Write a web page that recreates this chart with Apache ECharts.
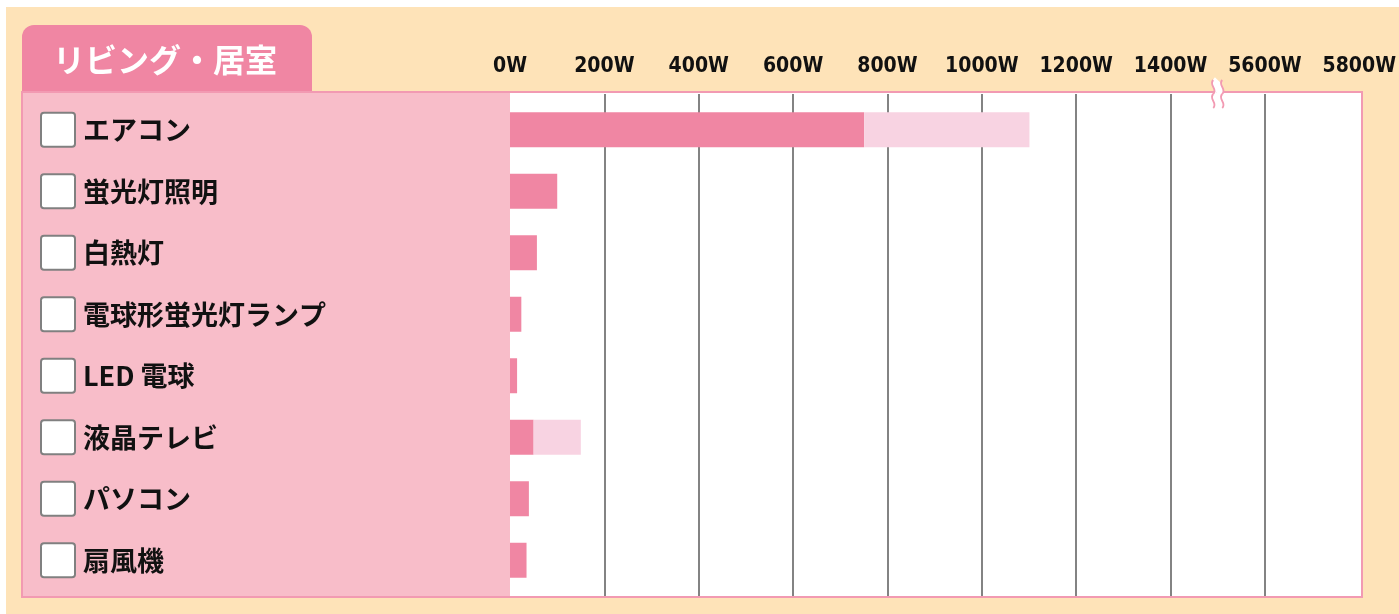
<!DOCTYPE html>
<html>
<head>
<meta charset="utf-8">
<script src="https://cdn.jsdelivr.net/npm/echarts@6/dist/echarts.min.js"></script>
<style>
  html, body { margin: 0; padding: 0; background: #fff; }
  #chart { width: 1399px; height: 614px; }
</style>
</head>
<body>
<div id="chart"></div>
<script>
// rows, top to bottom
const categories = ['エアコン', '蛍光灯照明', '白熱灯', '電球形蛍光灯ランプ', 'LED 電球', '液晶テレビ', 'パソコン', '扇風機']
// watts, low end and high end of each appliance
const minWatts = [750, 100, 57, 24, 15, 50, 40, 35]
const maxWatts = [1100, 100, 57, 24, 15, 150, 40, 35]
// axis is broken after 1400W, the last two ticks jump to 5600W / 5800W
const tickLabels = ['0W', '200W', '400W', '600W', '800W', '1000W', '1200W', '1400W', '5600W', '5800W']

const PEACH = '#FEE3B8'
const PINK_DARK = '#F086A3'
const PINK_LIGHT = '#F8D3E2'
const PANEL = '#F8BDC9'
const BORDER = '#F29AB2'

const chart = echarts.init(document.getElementById('chart'))

const axisMax = (tickLabels.length - 1) * 200

chart.setOption({
  backgroundColor: '#fff',
  animation: false,
  grid: [
    // frame grid: gridlines + tick labels
    { left: 510, right: 39, top: 94, bottom: 18 },
    // bar grid
    { left: 510, right: 39, top: 99, bottom: 23 },
  ],
  xAxis: [
    {
      gridIndex: 0,
      type: 'value',
      position: 'top',
      min: 0,
      max: axisMax,
      interval: 200,
      axisLine: { show: false },
      axisTick: { show: false },
      axisLabel: {
        margin: 17,
        color: '#111',
        fontSize: 21,
        fontWeight: 'bold',
        fontFamily: '"Liberation Sans Narrow", "DejaVu Sans Condensed", sans-serif',
        formatter: v => tickLabels[Math.round(v / 200)],
      },
      splitLine: {
        show: true,
        showMinLine: false,
        showMaxLine: false,
        lineStyle: { color: '#5a5a5a', width: 1.5 },
      },
    },
    {
      gridIndex: 1,
      type: 'value',
      min: 0,
      max: axisMax,
      show: false,
    },
  ],
  yAxis: [
    { gridIndex: 0, type: 'category', data: categories, show: false },
    {
      gridIndex: 1,
      type: 'category',
      data: categories,
      inverse: true,
      axisLine: { show: false },
      axisTick: { show: false },
      axisLabel: {
        align: 'left',
        margin: 468,
        formatter: v => '{box|}{t|' + v + '}',
        rich: {
          box: {
            width: 32,
            height: 32,
            backgroundColor: '#fff',
            borderColor: '#808080',
            borderWidth: 2,
            borderRadius: 2,
          },
          t: {
            padding: [0, 0, 0, 9],
            color: '#111',
            fontSize: 27,
            fontWeight: 'bold',
            fontFamily: '"Noto Sans CJK JP", sans-serif',
          },
        },
      },
    },
  ],
  series: [
    {
      name: 'min',
      type: 'bar',
      xAxisIndex: 1,
      yAxisIndex: 1,
      stack: 'w',
      barWidth: 35,
      itemStyle: { color: PINK_DARK },
      data: minWatts,
    },
    {
      name: 'range',
      type: 'bar',
      xAxisIndex: 1,
      yAxisIndex: 1,
      stack: 'w',
      barWidth: 35,
      itemStyle: { color: PINK_LIGHT },
      data: maxWatts.map((v, i) => v - minWatts[i]),
    },
  ],
  graphic: [
    // peach sheet
    { id: 'sheet', type: 'rect', z: -20, shape: { x: 6, y: 7, width: 1393, height: 607 }, style: { fill: PEACH } },
    // tab
    {
      id: 'tab', type: 'rect', z: -15,
      shape: { x: 22, y: 25, width: 290, height: 70, r: [12, 12, 0, 0] },
      style: { fill: PINK_DARK },
    },
    {
      id: 'tabText', type: 'text', z: -14, left: 53, top: 44,
      style: {
        text: 'リビング・居室',
        fill: '#fff',
        fontSize: 32,
        fontWeight: 'bold',
        fontFamily: '"Noto Sans CJK JP", sans-serif',
      },
    },
    // left label panel
    { id: 'labelPanel', type: 'rect', z: -12, shape: { x: 22, y: 92, width: 488, height: 505 }, style: { fill: PANEL } },
    // plot panel
    { id: 'plotPanel', type: 'rect', z: -12, shape: { x: 510, y: 92, width: 852, height: 505 }, style: { fill: '#fff' } },
    // frame border
    {
      id: 'frame', type: 'rect', z: 50,
      shape: { x: 22, y: 92, width: 1340, height: 505 },
      style: { fill: null, stroke: BORDER, lineWidth: 2 },
    },
  ],
})

// axis break mark between 1400W and 5600W: two wavy strokes with a gap
const bx = chart.convertToPixel({ xAxisIndex: 0 }, 1500)
function waveParts(id, dx, stroke, lineWidth, z) {
  const segs = [
    { x1: 0, y1: 0, cpx1: -5, cpy1: 5, cpx2: 5, cpy2: 9, x2: 0, y2: 14 },
    { x1: 0, y1: 14, cpx1: -5, cpy1: 19, cpx2: 5, cpy2: 23, x2: 0, y2: 28 },
  ]
  return segs.map((s, i) => ({
    id: id + i,
    type: 'bezierCurve',
    z: z,
    x: bx + dx,
    y: 80,
    shape: s,
    style: { fill: null, stroke: stroke, lineWidth: lineWidth },
  }))
}
chart.setOption({
  graphic: [
    ...waveParts('breakGap', 0, '#fff', 8, 60),
    ...waveParts('breakL', -4.5, BORDER, 1.8, 61),
    ...waveParts('breakR', 4.5, BORDER, 1.8, 61),
  ],
})
</script>
</body>
</html>
